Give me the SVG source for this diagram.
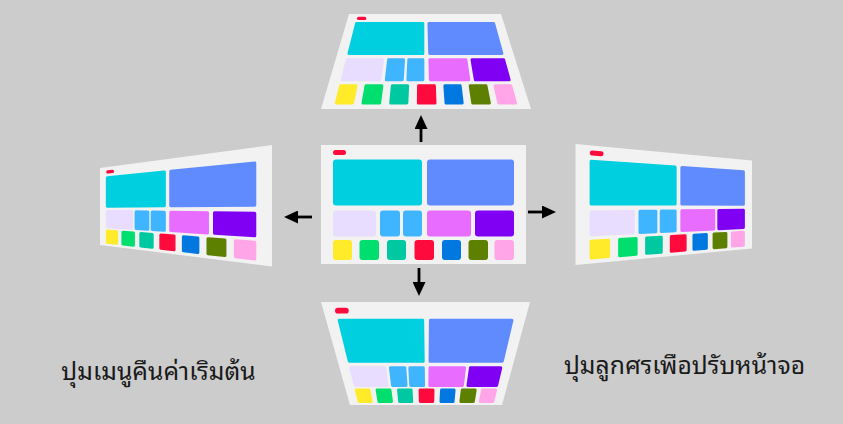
<svg xmlns="http://www.w3.org/2000/svg" width="843" height="424" viewBox="0 0 843 424">
<defs>
<marker id="ah" viewBox="0 0 14 13" refX="1" refY="6.5" markerWidth="14" markerHeight="13" markerUnits="userSpaceOnUse" orient="auto"><path d="M0,0 L14,6.5 L0,13 z" fill="#000"/></marker>
</defs>
<style>
.pn{fill:#f2f2f2}
polygon{stroke-width:3;stroke-linejoin:round}
.pill{stroke:#ff0a3c;stroke-linecap:round;fill:none}
.cy{fill:#00cfe0;stroke:#00cfe0}
.bl{fill:#5f8bff;stroke:#5f8bff}
.lv{fill:#e8dcff;stroke:#e8dcff}
.lb{fill:#40b5ff;stroke:#40b5ff}
.mg{fill:#e86dff;stroke:#e86dff}
.pu{fill:#7f00f2;stroke:#7f00f2}
.ye{fill:#ffeb29;stroke:#ffeb29}
.gr{fill:#00de6e;stroke:#00de6e}
.te{fill:#00c8a0;stroke:#00c8a0}
.rd{fill:#ff0a3c;stroke:#ff0a3c}
.b2{fill:#0078e0;stroke:#0078e0}
.ol{fill:#5e8000;stroke:#5e8000}
.pk{fill:#ffa5e8;stroke:#ffa5e8}
rect.cy,rect.bl,rect.lv,rect.lb,rect.mg,rect.pu,rect.ye,rect.gr,rect.te,rect.rd,rect.b2,rect.ol,rect.pk{stroke:none}
.conn{stroke:#000;stroke-width:2.8;fill:none}
.lbl{font-family:"Noto Sans Thai Looped","Loma","Garuda","Tahoma","Noto Sans Thai","Noto Sans","DejaVu Sans",sans-serif;font-size:24.7px;fill:#1a1a1a;text-anchor:middle}
</style>
<rect width="843" height="424" fill="#cccccc"/>

<g id="panel-center">
<rect class="pn" x="321" y="145" width="205" height="119"/>
<rect class="rd" x="333" y="150" width="13" height="5" rx="2.5"/>
<rect class="cy" x="333" y="159.5" width="89" height="46" rx="3"/>
<rect class="bl" x="427" y="159.5" width="87" height="46" rx="3"/>
<rect class="lv" x="333" y="210.5" width="43" height="26" rx="3"/>
<rect class="lb" x="380" y="210.5" width="20" height="26" rx="3"/>
<rect class="lb" x="403" y="210.5" width="19" height="26" rx="3"/>
<rect class="mg" x="427" y="210.5" width="44" height="26" rx="3"/>
<rect class="pu" x="475" y="210.5" width="39" height="26" rx="3"/>
<rect class="ye" x="333" y="240" width="19" height="20" rx="3"/>
<rect class="gr" x="359.5" y="240" width="19.5" height="20" rx="3"/>
<rect class="te" x="387" y="240" width="19" height="20" rx="3"/>
<rect class="rd" x="414.5" y="240" width="19.5" height="20" rx="3"/>
<rect class="b2" x="442" y="240" width="19" height="20" rx="3"/>
<rect class="ol" x="468.5" y="240" width="19.5" height="20" rx="3"/>
<rect class="pk" x="494.5" y="240" width="19.5" height="20" rx="3"/>
</g>

<g id="panel-top">
<polygon class="pn" style="stroke:none" points="349,14 501,14 531,109 321,109"/>
<line class="pill" x1="358.64" y1="18.41" x2="364.68" y2="18.41" stroke-width="3.4"/>
<polygon class="cy" points="356.57,23.60 422.79,23.60 422.84,53.50 348.96,53.50"/>
<polygon class="bl" points="428.95,23.60 493.64,23.60 501.88,53.50 429.72,53.50"/>
<polygon class="lv" points="347.34,59.84 382.46,59.84 379.77,79.74 342.28,79.74"/>
<polygon class="lb" points="388.61,59.84 403.54,59.84 402.27,79.74 386.33,79.74"/>
<polygon class="lb" points="408.80,59.84 422.85,59.84 422.88,79.74 407.89,79.74"/>
<polygon class="mg" points="429.88,59.84 465.87,59.84 468.81,79.74 430.38,79.74"/>
<polygon class="pu" points="472.02,59.84 503.63,59.84 509.11,79.74 475.37,79.74"/>
<polygon class="ye" points="340.72,85.85 356.01,85.85 352.46,103.04 336.35,103.04"/>
<polygon class="gr" points="366.04,85.85 381.80,85.85 379.64,103.04 363.03,103.04"/>
<polygon class="te" points="392.31,85.85 407.60,85.85 406.82,103.04 390.71,103.04"/>
<polygon class="rd" points="418.59,85.85 434.35,85.85 435.00,103.04 418.39,103.04"/>
<polygon class="b2" points="444.86,85.85 460.15,85.85 462.18,103.04 446.07,103.04"/>
<polygon class="ol" points="470.18,85.85 485.95,85.85 489.36,103.04 472.75,103.04"/>
<polygon class="pk" points="495.03,85.85 510.79,85.85 515.53,103.04 498.92,103.04"/>
</g>

<g id="panel-bottom">
<polygon class="pn" style="stroke:none" points="321,302 530,302 502,405 350,405"/>
<line class="pill" x1="337.90" y1="310.72" x2="345.87" y2="310.72" stroke-width="5.7"/>
<polygon class="cy" points="339.20,320.13 422.67,320.13 423.21,361.21 349.28,361.21"/>
<polygon class="bl" points="430.44,320.13 511.97,320.13 502.30,361.21 430.08,361.21"/>
<polygon class="lv" points="350.90,367.84 384.58,367.84 386.98,385.44 355.21,385.44"/>
<polygon class="lb" points="390.47,367.84 404.78,367.84 406.04,385.44 392.54,385.44"/>
<polygon class="lb" points="409.83,367.84 423.30,367.84 423.52,385.44 410.81,385.44"/>
<polygon class="mg" points="430.03,367.84 464.55,367.84 462.44,385.44 429.87,385.44"/>
<polygon class="pu" points="470.44,367.84 500.75,367.84 496.59,385.44 468.00,385.44"/>
<polygon class="ye" points="356.35,390.07 368.86,390.07 371.16,401.49 359.15,401.49"/>
<polygon class="gr" points="377.07,390.07 389.97,390.07 391.44,401.49 379.05,401.49"/>
<polygon class="te" points="398.57,390.07 411.08,390.07 411.71,401.49 399.70,401.49"/>
<polygon class="rd" points="420.07,390.07 432.97,390.07 432.74,401.49 420.35,401.49"/>
<polygon class="b2" points="441.57,390.07 454.07,390.07 453.01,401.49 441.00,401.49"/>
<polygon class="ol" points="462.28,390.07 475.18,390.07 473.29,401.49 460.90,401.49"/>
<polygon class="pk" points="482.61,390.07 495.51,390.07 492.81,401.49 480.42,401.49"/>
</g>

<g id="panel-left">
<polygon class="pn" style="stroke:none" points="100,168 272,145 272,266.5 100,245"/>
<line class="pill" x1="107.91" y1="171.92" x2="112.46" y2="171.39" stroke-width="3.4"/>
<polygon class="cy" points="107.35,177.63 164.34,171.99 164.34,205.83 107.35,206.14"/>
<polygon class="bl" points="170.75,171.35 254.78,163.04 254.78,205.33 170.75,205.79"/>
<polygon class="lv" points="107.35,211.44 131.45,211.73 131.45,228.18 107.35,226.69"/>
<polygon class="lb" points="136.07,211.79 147.83,211.92 147.83,229.19 136.07,228.47"/>
<polygon class="lb" points="152.18,211.97 164.34,212.13 164.34,230.23 152.18,229.47"/>
<polygon class="mg" points="170.75,212.20 207.47,212.64 207.47,232.90 170.75,230.62"/>
<polygon class="pu" points="214.49,212.72 254.78,213.20 254.78,235.83 214.49,233.33"/>
<polygon class="ye" points="107.35,231.00 116.56,231.70 116.56,243.31 107.35,242.27"/>
<polygon class="gr" points="122.91,232.19 133.41,232.99 133.41,245.22 122.91,244.04"/>
<polygon class="te" points="140.81,233.54 152.18,234.41 152.18,247.34 140.81,246.05"/>
<polygon class="rd" points="160.84,235.07 174.03,236.07 174.03,249.81 160.84,248.31"/>
<polygon class="b2" points="183.38,236.78 197.86,237.88 197.86,252.50 183.38,250.86"/>
<polygon class="ol" points="207.97,238.65 224.94,239.95 224.94,255.57 207.97,253.64"/>
<polygon class="pk" points="235.38,240.75 254.78,242.22 254.78,258.94 235.38,256.75"/>
</g>

<g id="panel-right">
<polygon class="pn" style="stroke:none" points="575.5,144 752,160.5 752,248.5 575.5,265"/>
<line class="pill" x1="592.22" y1="152.99" x2="601.08" y2="153.72" stroke-width="4.9"/>
<polygon class="cy" points="591.10,161.34 675.15,167.08 675.15,204.08 591.10,204.00"/>
<polygon class="bl" points="681.85,167.54 743.39,171.75 743.39,204.13 681.85,204.08"/>
<polygon class="lv" points="591.10,211.94 633.19,211.44 633.19,232.74 591.10,234.76"/>
<polygon class="lb" points="639.98,211.37 655.85,211.18 655.85,231.66 639.98,232.42"/>
<polygon class="lb" points="661.25,211.12 675.15,210.96 675.15,230.74 661.25,231.41"/>
<polygon class="mg" points="681.85,210.87 713.75,210.49 713.75,228.88 681.85,230.42"/>
<polygon class="pu" points="718.82,210.44 743.39,210.15 743.39,227.47 718.82,228.64"/>
<polygon class="ye" points="591.10,241.21 608.63,240.19 608.63,256.59 591.10,258.08"/>
<polygon class="gr" points="619.62,239.55 636.12,238.60 636.12,254.27 619.62,255.66"/>
<polygon class="te" points="646.63,237.99 661.25,237.14 661.25,252.14 646.63,253.37"/>
<polygon class="rd" points="671.31,236.56 685.13,235.75 685.13,250.11 671.31,251.29"/>
<polygon class="b2" points="693.97,235.24 706.32,234.52 706.32,248.31 693.97,249.36"/>
<polygon class="ol" points="714.11,234.06 725.89,233.38 725.89,246.65 714.11,247.65"/>
<polygon class="pk" points="732.43,233.00 743.39,232.37 743.39,245.17 732.43,246.09"/>
</g>

<g id="connectors">
<line class="conn" x1="421" y1="142" x2="421" y2="128" marker-end="url(#ah)"/>
<line class="conn" x1="419" y1="268" x2="419" y2="283" marker-end="url(#ah)"/>
<line class="conn" x1="312" y1="217" x2="297" y2="217" marker-end="url(#ah)"/>
<line class="conn" x1="528" y1="212" x2="543" y2="212" marker-end="url(#ah)"/>
</g>

<g id="labels">
<text class="lbl" x="158.5" y="380">ปุมเมนูคืนค่าเริมต้น</text>
<text class="lbl" x="684.5" y="374">ปุมลูกศรเพือปรับหน้าจอ</text>
</g>
</svg>
